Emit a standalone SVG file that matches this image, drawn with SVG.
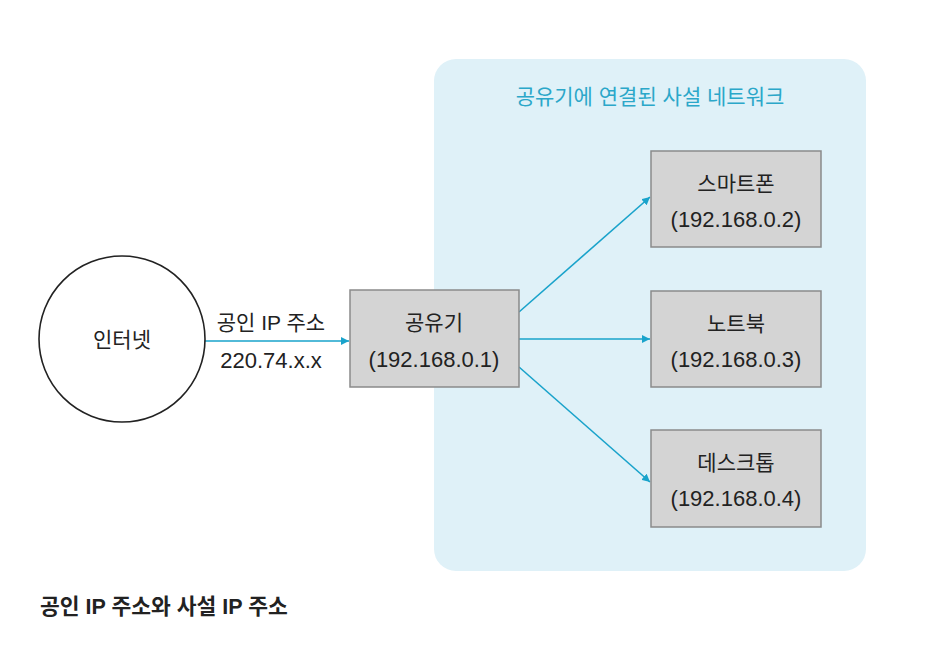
<svg xmlns="http://www.w3.org/2000/svg" width="935" height="647" viewBox="0 0 935 647">
<style>
text{font-family:"Liberation Sans","Noto Sans CJK KR",sans-serif;fill:#222;font-size:21px;text-anchor:middle}
.num{font-size:22px}
.box{fill:#d4d4d4;stroke:#8a8a8a;stroke-width:1.5}
.conn{stroke:#19a3cb;stroke-width:1.6;fill:none;marker-end:url(#ah)}
</style>
<defs>
<marker id="ah" viewBox="0 0 10 10" refX="10" refY="5" markerWidth="8" markerHeight="8" markerUnits="userSpaceOnUse" orient="auto">
<path d="M0,0 L10,5 L0,10 z" fill="#19a3cb"/>
</marker>
</defs>
<rect width="935" height="647" fill="#fff"/>
<g id="panel">
<rect x="434" y="59" width="432" height="512" rx="22" fill="#dff1f8"/>
<text x="650" y="104" style="fill:#2ba7c9;font-size:21px">공유기에 연결된 사설 네트워크</text>
</g>
<g id="connectors">
<line class="conn" x1="204" y1="341" x2="349" y2="341"/>
<line class="conn" x1="519" y1="312" x2="650" y2="197"/>
<line class="conn" x1="519" y1="339" x2="650" y2="339"/>
<line class="conn" x1="519" y1="367" x2="650" y2="482"/>
</g>
<g id="edge-label">
<text x="271" y="330">공인 IP 주소</text>
<text class="num" x="271" y="368">220.74.x.x</text>
</g>
<g id="internet">
<circle cx="122" cy="339" r="83" fill="#fff" stroke="#222" stroke-width="1.6"/>
<text x="122" y="347">인터넷</text>
</g>
<g id="router">
<rect class="box" x="350" y="290" width="169" height="97"/>
<text x="434" y="330">공유기</text>
<text class="num" x="434" y="367">(192.168.0.1)</text>
</g>
<g id="smartphone">
<rect class="box" x="651" y="151" width="170" height="96"/>
<text x="736" y="191">스마트폰</text>
<text class="num" x="736" y="227">(192.168.0.2)</text>
</g>
<g id="notebook">
<rect class="box" x="651" y="291" width="170" height="96"/>
<text x="736" y="331">노트북</text>
<text class="num" x="736" y="367">(192.168.0.3)</text>
</g>
<g id="desktop">
<rect class="box" x="651" y="430" width="170" height="97"/>
<text x="736" y="470">데스크톱</text>
<text class="num" x="736" y="506">(192.168.0.4)</text>
</g>
<g id="caption">
<text x="40" y="614" style="text-anchor:start;font-weight:bold;font-size:21.5px">공인 IP 주소와 사설 IP 주소</text>
</g>
</svg>
